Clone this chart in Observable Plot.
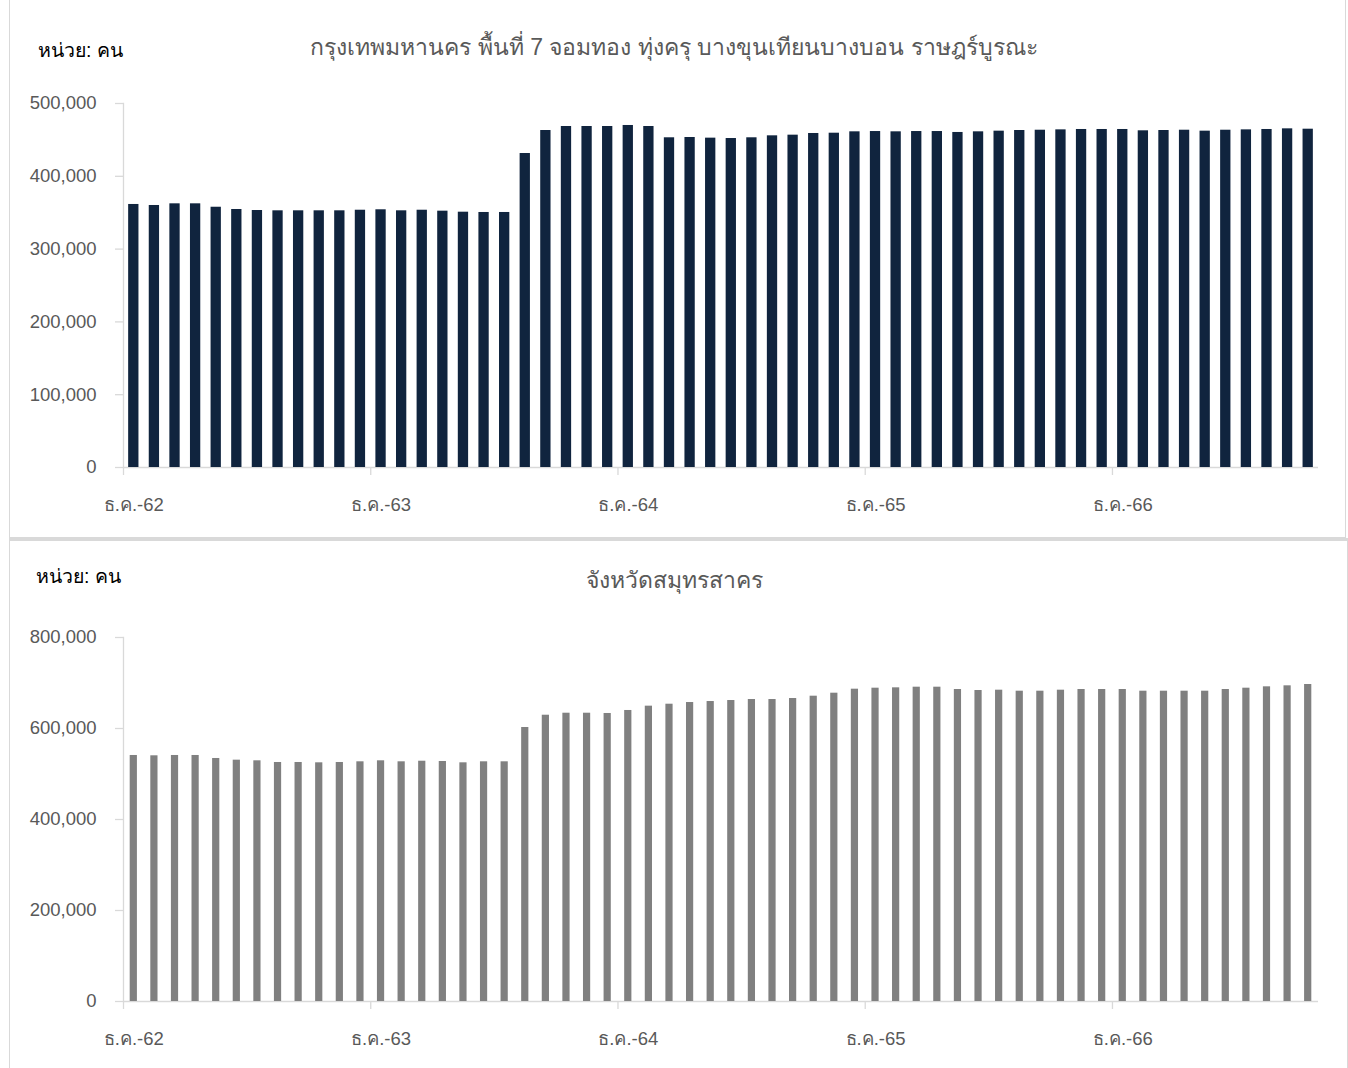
<!DOCTYPE html>
<html><head><meta charset="utf-8">
<script src="https://cdn.jsdelivr.net/npm/d3@7"></script>
<script src="https://cdn.jsdelivr.net/npm/@observablehq/plot@0.6"></script>
<style>
body{margin:0;background:#fff;font-family:"Liberation Sans",Arial,sans-serif;}
#wrap{position:relative;width:1348px;height:1068px;overflow:hidden;background:#fff}
.panel{position:absolute;left:0;width:1348px}
.box{position:absolute;border:1px solid #d9d9d9;box-sizing:border-box}
.unit{position:absolute;font-size:19.5px;line-height:20px;color:#000;white-space:nowrap}
.title{position:absolute;left:0;width:1348px;text-align:center;font-size:23px;line-height:24px;color:#595959;white-space:nowrap}
.panel svg{position:absolute;left:0;top:0}
</style></head><body><div id="wrap"></div>
<script>
const monthNames = ["ม.ค.","ก.พ.","มี.ค.","เม.ย.","พ.ค.","มิ.ย.","ก.ค.","ส.ค.","ก.ย.","ต.ค.","พ.ย.","ธ.ค."];
// Dec 2562 .. Sep 2567 (58 months)
const months = [];
for (let y = 62, m = 11; months.length < 58; ) {
  months.push(monthNames[m] + "-" + y);
  m++; if (m === 12) { m = 0; y++; }
}
const tickLabels = ["ธ.ค.-62","ธ.ค.-63","ธ.ค.-64","ธ.ค.-65","ธ.ค.-66"];

const bkkValues = [
  361300, 359900, 362200, 362200, 357500, 354400, 353000, 352600, 352600, 352600,
  352600, 353400, 354000, 352600, 353400, 352100, 350700, 350300, 350300, 431300,
  462900, 468400, 468400, 468400, 469800, 468400, 452900, 453300, 452400, 451900,
  452900, 455600, 456500, 458800, 459200, 461100, 461500, 461100, 461500, 461500,
  460200, 461100, 462000, 462900, 463300, 463800, 464300, 464300, 464300, 462500,
  462900, 463300, 462000, 463300, 463800, 464300, 465200, 464700
];
const skValues = [
  540700, 540000, 540700, 540700, 534100, 530400, 529000, 525300, 525300, 524600,
  525300, 526800, 529000, 526800, 528100, 527500, 524600, 526800, 526800, 602200,
  629200, 633600, 633600, 633000, 639600, 649100, 653400, 657100, 659300, 661500,
  663700, 663700, 665900, 671000, 677600, 686400, 688600, 689400, 690800, 690800,
  685700, 683500, 684200, 682000, 682000, 684200, 685700, 685700, 685700, 682000,
  682000, 682000, 682000, 685700, 688600, 691600, 693800, 696700
];

const unitLabel = "หน่วย: คน";
const topTitle = "กรุงเทพมหานคร พื้นที่ 7 จอมทอง ทุ่งครุ บางขุนเทียนบางบอน ราษฎร์บูรณะ";
const bottomTitle = "จังหวัดสมุทรสาคร";

const W = 1348, ML = 123, MR = 30;
const step = (W - ML - MR) / months.length;
const FONT = "'Liberation Sans', Arial, sans-serif";

function chart({values, color, yMax, yStep, h, mt, mb, pad}) {
  const data = months.map((m, i) => ({m, v: values[i]}));
  return Plot.plot({
    width: W, height: h,
    marginLeft: ML, marginRight: MR, marginTop: mt, marginBottom: mb,
    style: {fontFamily: FONT, fontSize: "18.5px", color: "#595959", background: "transparent", overflow: "visible"},
    x: {type: "band", domain: months, paddingInner: pad, paddingOuter: pad / 2},
    y: {domain: [0, yMax]},
    marks: [
      Plot.frame({anchor: "left", stroke: "#d9d9d9", strokeWidth: 1.3}),
      Plot.axisY({ticks: d3.range(0, yMax + 1, yStep), tickFormat: d3.format(","), tickSize: 8, tickPadding: 19,
                  stroke: "#d9d9d9", fill: "#595959", label: null, strokeWidth: 1.3}),
      Plot.axisX({ticks: tickLabels, tickSize: 8, dx: -step / 2, tickFormat: () => "", stroke: "#d9d9d9", label: null, strokeWidth: 1.3}),
      Plot.axisX({ticks: tickLabels, tickSize: 0, tickPadding: 30, fill: "#595959", label: null}),
      Plot.ruleY([0], {stroke: "#d9d9d9", strokeWidth: 1.5}),
      Plot.barY(data, {x: "m", y: "v", fill: color})
    ]
  });
}

const wrap = document.getElementById("wrap");
function addPanel({top, height, box, unitTop, titleTop, unitLeft, title, plotOpts}) {
  const p = document.createElement("div");
  p.className = "panel";
  p.style.top = top + "px"; p.style.height = height + "px";
  const b = document.createElement("div");
  b.className = "box";
  Object.assign(b.style, box);
  p.appendChild(b);
  const u = document.createElement("div");
  u.className = "unit"; u.textContent = unitLabel;
  u.style.left = unitLeft + "px"; u.style.top = unitTop + "px";
  p.appendChild(u);
  const t = document.createElement("div");
  t.className = "title"; t.textContent = title;
  t.style.top = titleTop + "px";
  p.appendChild(t);
  p.appendChild(chart(plotOpts));
  wrap.appendChild(p);
}

addPanel({
  top: 0, height: 538,
  box: {left: "9px", top: "-2px", width: "1337px", height: "540px"},
  unitLeft: 38, unitTop: 40, titleTop: 35, title: topTitle,
  plotOpts: {values: bkkValues, color: "#10243e", yMax: 500000, yStep: 100000, h: 538, mt: 103, mb: 71, pad: 0.5}
});
addPanel({
  top: 538, height: 530,
  box: {left: "9px", top: "0px", width: "1339px", height: "532px", borderTop: "3px solid #d9d9d9"},
  unitLeft: 36, unitTop: 28, titleTop: 30, title: bottomTitle,
  plotOpts: {values: skValues, color: "#808080", yMax: 800000, yStep: 200000, h: 530, mt: 99, mb: 67, pad: 0.65}
});
</script></body></html>
